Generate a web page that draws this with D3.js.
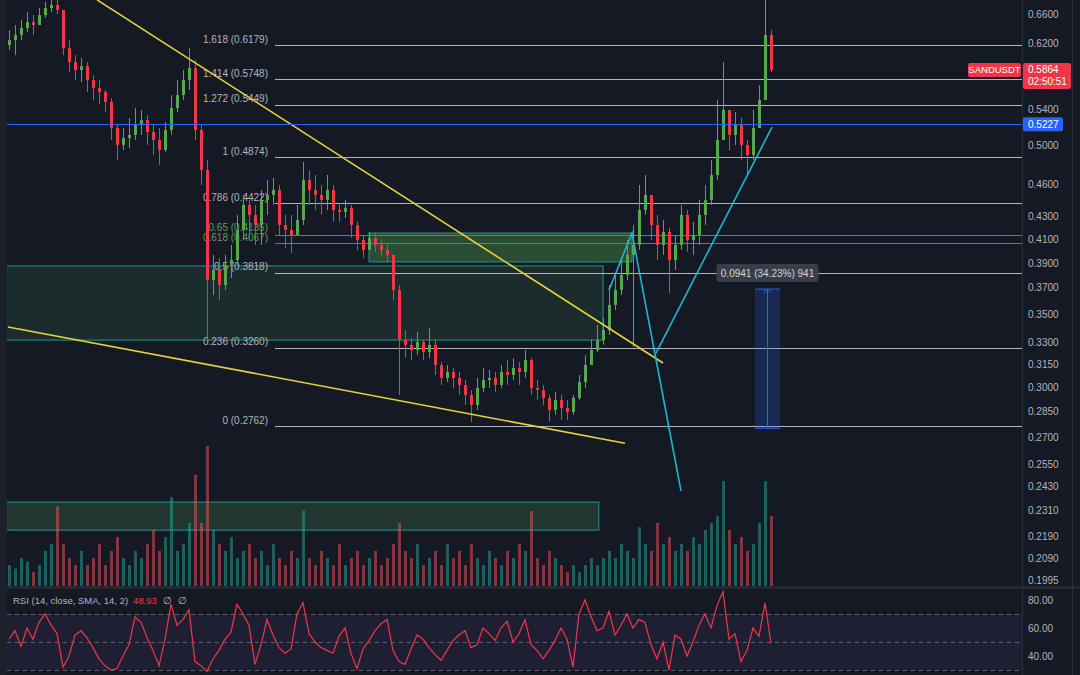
<!DOCTYPE html>
<html>
<head>
<meta charset="utf-8">
<script src="https://cdn.jsdelivr.net/npm/d3@7"></script>
<style>
html, body { margin: 0; padding: 0; background: #151924; }
svg { display: block; font-family: "Liberation Sans", Arial, sans-serif; }
</style>
</head>
<body>
<svg id="chart" width="1080" height="675"></svg>
<script>
// SANDUSDT candles, one row per bar: [open, high, low, close]
var candles = [
    [0.6180, 0.6380, 0.6115, 0.6246], [0.6246, 0.6448, 0.6050, 0.6313], [0.6313, 0.6517, 0.6246, 0.6407], [0.6407, 0.6628, 0.6353, 0.6489],
    [0.6489, 0.6586, 0.6313, 0.6448], [0.6448, 0.6684, 0.6448, 0.6586], [0.6586, 0.6770, 0.6545, 0.6684], [0.6684, 0.6800, 0.6628, 0.6727],
    [0.6727, 0.6800, 0.6600, 0.6656], [0.6656, 0.6656, 0.6050, 0.6141], [0.6141, 0.6246, 0.5837, 0.5962], [0.5962, 0.6050, 0.5739, 0.5862],
    [0.5862, 0.6012, 0.5715, 0.5912], [0.5912, 0.5962, 0.5596, 0.5739], [0.5739, 0.5800, 0.5503, 0.5643], [0.5643, 0.5739, 0.5457, 0.5596],
    [0.5596, 0.5620, 0.5365, 0.5480], [0.5480, 0.5526, 0.5057, 0.5187], [0.5187, 0.5220, 0.4848, 0.5004], [0.5004, 0.5187, 0.4951, 0.5078],
    [0.5078, 0.5297, 0.4972, 0.5111], [0.5111, 0.5411, 0.5057, 0.5220], [0.5220, 0.5388, 0.5111, 0.5275], [0.5275, 0.5331, 0.5004, 0.5143],
    [0.5143, 0.5220, 0.4899, 0.5057], [0.5057, 0.5187, 0.4797, 0.4951], [0.4951, 0.5253, 0.4930, 0.5165], [0.5165, 0.5560, 0.5111, 0.5411],
    [0.5411, 0.5739, 0.5365, 0.5560], [0.5560, 0.5862, 0.5503, 0.5739], [0.5739, 0.6141, 0.5620, 0.5887], [0.5887, 0.5987, 0.5057, 0.5165],
    [0.5165, 0.5220, 0.4598, 0.4746], [0.4746, 0.4848, 0.3313, 0.3761], [0.3761, 0.3966, 0.3644, 0.3842], [0.3842, 0.3941, 0.3606, 0.3722],
    [0.3722, 0.3966, 0.3683, 0.3883], [0.3883, 0.4051, 0.3777, 0.3924], [0.3924, 0.4316, 0.3883, 0.4181], [0.4181, 0.4502, 0.4093, 0.4408],
    [0.4408, 0.4455, 0.4093, 0.4316], [0.4316, 0.4408, 0.4051, 0.4225], [0.4225, 0.4550, 0.4051, 0.4455], [0.4455, 0.4647, 0.4316, 0.4502],
    [0.4502, 0.4667, 0.4408, 0.4550], [0.4550, 0.4598, 0.4137, 0.4225], [0.4225, 0.4316, 0.4025, 0.4181], [0.4181, 0.4316, 0.3983, 0.4137],
    [0.4137, 0.4408, 0.4137, 0.4270], [0.4270, 0.4828, 0.4225, 0.4647], [0.4647, 0.4746, 0.4408, 0.4550], [0.4550, 0.4696, 0.4361, 0.4502],
    [0.4502, 0.4598, 0.4316, 0.4455], [0.4455, 0.4696, 0.4361, 0.4550], [0.4550, 0.4598, 0.4252, 0.4361], [0.4361, 0.4427, 0.4252, 0.4343],
    [0.4343, 0.4455, 0.4288, 0.4380], [0.4380, 0.4408, 0.4111, 0.4225], [0.4225, 0.4252, 0.4008, 0.4093], [0.4093, 0.4137, 0.3941, 0.4008],
    [0.4008, 0.4163, 0.4008, 0.4111], [0.4111, 0.4154, 0.3991, 0.4051], [0.4051, 0.4093, 0.3958, 0.4008], [0.4008, 0.4051, 0.3908, 0.3966],
    [0.3966, 0.3966, 0.3606, 0.3683], [0.3683, 0.3722, 0.2950, 0.3313], [0.3313, 0.3384, 0.3189, 0.3279], [0.3279, 0.3327, 0.3176, 0.3244],
    [0.3244, 0.3370, 0.3210, 0.3299], [0.3299, 0.3313, 0.3176, 0.3230], [0.3230, 0.3398, 0.3189, 0.3279], [0.3279, 0.3313, 0.3077, 0.3143],
    [0.3143, 0.3163, 0.3013, 0.3058], [0.3058, 0.3143, 0.3032, 0.3097], [0.3097, 0.3123, 0.2994, 0.3058], [0.3058, 0.3097, 0.2950, 0.3013],
    [0.3013, 0.3045, 0.2888, 0.2950], [0.2950, 0.2981, 0.2786, 0.2888], [0.2888, 0.3058, 0.2858, 0.2994], [0.2994, 0.3123, 0.2969, 0.3045],
    [0.3045, 0.3110, 0.2994, 0.3058], [0.3058, 0.3097, 0.2969, 0.3013], [0.3013, 0.3143, 0.2994, 0.3097], [0.3097, 0.3176, 0.3013, 0.3077],
    [0.3077, 0.3189, 0.3045, 0.3123], [0.3123, 0.3163, 0.3013, 0.3097], [0.3097, 0.3244, 0.3058, 0.3176], [0.3176, 0.3189, 0.2950, 0.2994],
    [0.2994, 0.3045, 0.2919, 0.2981], [0.2981, 0.3013, 0.2888, 0.2931], [0.2931, 0.2950, 0.2786, 0.2858], [0.2858, 0.2969, 0.2828, 0.2919],
    [0.2919, 0.2950, 0.2798, 0.2870], [0.2870, 0.2919, 0.2798, 0.2846], [0.2846, 0.2950, 0.2828, 0.2931], [0.2931, 0.3077, 0.2919, 0.3032],
    [0.3032, 0.3210, 0.2994, 0.3143], [0.3143, 0.3313, 0.3143, 0.3244], [0.3244, 0.3420, 0.3230, 0.3313], [0.3313, 0.3471, 0.3279, 0.3384],
    [0.3384, 0.3722, 0.3349, 0.3568], [0.3568, 0.3802, 0.3530, 0.3683], [0.3683, 0.3941, 0.3644, 0.3802], [0.3802, 0.4093, 0.3761, 0.3966],
    [0.3966, 0.4225, 0.3265, 0.4051], [0.4051, 0.4598, 0.4008, 0.4361], [0.4361, 0.4696, 0.4316, 0.4502], [0.4502, 0.4502, 0.4093, 0.4225],
    [0.4225, 0.4316, 0.3924, 0.4051], [0.4051, 0.4270, 0.3966, 0.4163], [0.4163, 0.4199, 0.3660, 0.3924], [0.3924, 0.4137, 0.3842, 0.4051],
    [0.4051, 0.4408, 0.4008, 0.4316], [0.4316, 0.4361, 0.3991, 0.4093], [0.4093, 0.4252, 0.3966, 0.4137], [0.4137, 0.4455, 0.4051, 0.4316],
    [0.4316, 0.4598, 0.4225, 0.4455], [0.4455, 0.4848, 0.4408, 0.4696], [0.4696, 0.5503, 0.4647, 0.5057], [0.5057, 0.5962, 0.5057, 0.5388],
    [0.5388, 0.5388, 0.4951, 0.5111], [0.5111, 0.5365, 0.5004, 0.5220], [0.5220, 0.5297, 0.4848, 0.5004], [0.5004, 0.5057, 0.4696, 0.4899],
    [0.4899, 0.5388, 0.4848, 0.5187], [0.5187, 0.5679, 0.5187, 0.5503], [0.5503, 0.6800, 0.5503, 0.6313], [0.6313, 0.6380, 0.5837, 0.5864]
];

// volume per bar (millions)
var volumes = [
    3, 2.5, 4, 3.5, 2, 3, 5, 6, 11.4, 6,
    4, 3, 5, 3, 4, 6, 3, 5, 7, 4,
    3, 5, 4, 6, 8, 5, 7, 12.7, 5, 6,
    9, 15.9, 9, 20, 8, 6, 5, 7, 4, 5,
    6, 4, 5, 3, 6, 4, 3, 5, 4, 10.8,
    4, 3, 5, 4, 3, 6, 3, 4, 5, 3,
    4, 5, 3, 4, 6, 9, 5, 4, 6, 3,
    4, 5, 3, 6, 4, 5, 3, 6, 4, 3,
    5, 4, 3, 5, 4, 6, 5, 10.7, 4, 3,
    5, 4, 3, 2, 3, 2, 3, 4, 3, 4,
    5, 4, 6, 5, 4, 8.4, 6, 5, 9, 6,
    7, 5, 6, 5, 7, 6, 8, 9, 10, 15,
    8, 6, 7, 5, 6, 9, 15, 10
];

// RSI(14) per bar
var rsiValues = [
    52, 58, 47, 60, 52, 64, 70, 62, 56, 32,
    40, 55, 58, 53, 46, 38, 33, 30, 31, 40,
    48, 68, 64, 53, 44, 33, 52, 77, 62, 66,
    73, 36, 33, 29, 38, 44, 52, 57, 77, 70,
    62, 34, 48, 66, 55, 46, 42, 45, 70, 78,
    56, 50, 46, 44, 42, 54, 60, 42, 31, 45,
    51, 58, 63, 66, 44, 36, 34, 45, 55, 52,
    46, 41, 37, 44, 51, 55, 58, 46, 48, 60,
    56, 51, 60, 65, 50, 56, 66, 48, 44, 38,
    44, 51, 60, 52, 32, 70, 80, 68, 58, 60,
    72, 55, 62, 70, 60, 66, 64, 48, 38, 50,
    30, 55, 52, 40, 50, 62, 70, 60, 76, 86,
    52, 56, 36, 44, 60, 54, 78, 48.93
];

var priceTicks = [0.6600, 0.6200, 0.5400, 0.5000, 0.4600, 0.4300, 0.4100, 0.3900, 0.3700, 0.3500,
    0.3300, 0.3150, 0.3000, 0.2850, 0.2700, 0.2550, 0.2430, 0.2310, 0.2190, 0.2090, 0.1995];
var rsiTicks = [80, 60, 40];

// fib retracement drawn from 0.2762 to 0.4874
var fibRatios = ["0", "0.236", "0.5", "0.618", "0.65", "0.786", "1", "1.272", "1.414", "1.618"];
var fibPrices = [0.2762, 0.3260, 0.3818, 0.4067, 0.4135, 0.4422, 0.4874, 0.5449, 0.5748, 0.6179];

// drawings, in [bar index, price]
var upperTrend = [[14.67, 0.6800], [109, 0.3156]];
var lowerTrend = [[-0.17, 0.3406], [102.67, 0.2664]];
var cyanZigzag = [[100, 0.3683], [103.83, 0.4154], [112, 0.2408]];
var cyanSupport = [[107.83, 0.3223], [127.17, 0.5197]];
var demandZone = [[-0.4, 0.3875], [99, 0.3313]];
var supplyZone = [[60, 0.4154], [103.83, 0.3908]];
var volumeZone = [[-0.4, 0.2352], [98.3, 0.2217]];
// price range tool: bar from, bar to, price from, price to, bars
var measureRange = [124.33, 128.5, 0.2749, 0.3690, 941];
var blueLevel = 0.5227;
var lastPrice = 0.5864;

var svg = d3.select("#chart");
var W = 1080, H = 675, plotRight = 1022, mainBottom = 587;

var x = d3.scaleLinear().domain([0, candles.length - 1]).range([9, 771]);
var y = d3.scaleLog().domain([0.1995, 0.66]).range([580, 14]);
var yVol = d3.scaleLinear().domain([0, 20]).range([586, 446]);
var yRsi = d3.scaleLinear().domain([0, 100]).range([712, 572]);

var UP = "#55a84e", DOWN = "#f23645";

svg.append("rect").attr("width", W).attr("height", H).attr("fill", "#151924");
svg.append("rect").attr("width", 7).attr("height", H).attr("fill", "#1c202b");

var defs = svg.append("defs");
defs.append("clipPath").attr("id", "clipMain").append("rect")
    .attr("x", 7).attr("y", 0).attr("width", plotRight - 7).attr("height", mainBottom);
defs.append("clipPath").attr("id", "clipRsi").append("rect")
    .attr("x", 7).attr("y", mainBottom + 2).attr("width", plotRight - 7).attr("height", H - mainBottom - 2);

var main = svg.append("g").attr("clip-path", "url(#clipMain)");

// zones
function drawZone(zone, fill, stroke) {
    main.append("rect")
        .attr("x", x(zone[0][0])).attr("y", y(zone[0][1]))
        .attr("width", x(zone[1][0]) - x(zone[0][0]))
        .attr("height", y(zone[1][1]) - y(zone[0][1]))
        .attr("fill", fill).attr("stroke", stroke).attr("stroke-width", 1);
}
drawZone(demandZone, "rgba(56,110,70,0.22)", "#1f9c86");
drawZone(volumeZone, "rgba(56,110,70,0.35)", "#1f9c86");

// fib levels
var fibStart = 275;
var fib = main.append("g").attr("class", "fib");
fib.selectAll("line").data(fibPrices).enter().append("line")
    .attr("x1", fibStart).attr("x2", plotRight)
    .attr("y1", function (d) { return Math.round(y(d)) + 0.5; })
    .attr("y2", function (d) { return Math.round(y(d)) + 0.5; })
    .attr("stroke", function (d, i) { return (fibRatios[i] === "0.618" || fibRatios[i] === "0.65") ? "rgba(110,170,100,0.75)" : "rgba(205,208,215,0.85)"; })
    .attr("stroke-width", 1);
fib.selectAll("text").data(fibPrices).enter().append("text")
    .attr("x", 268)
    .attr("y", function (d, i) { return y(d) - (fibRatios[i] === "0.65" ? 4 : 2.5); })
    .attr("text-anchor", "end")
    .attr("font-size", 10)
    .attr("fill", function (d, i) { return (fibRatios[i] === "0.618" || fibRatios[i] === "0.65") ? "#5f9e58" : "#b2b5be"; })
    .text(function (d, i) { return fibRatios[i] + " (" + d.toFixed(4) + ")"; });

drawZone(supplyZone, "rgba(76,160,80,0.38)", "#1f9c86");

// volume
main.append("g").selectAll("rect").data(volumes).enter().append("rect")
    .attr("x", function (d, i) { return Math.round(x(i)) - 1; })
    .attr("width", 3)
    .attr("y", function (d) { return yVol(d); })
    .attr("height", function (d) { return yVol(0) - yVol(d); })
    .attr("fill", function (d, i) { return candles[i][3] >= candles[i][0] ? "rgba(38,166,154,0.5)" : "rgba(239,83,80,0.5)"; });

// candles
var bars = main.append("g").selectAll("g").data(candles).enter().append("g");
bars.append("line")
    .attr("x1", function (d, i) { return Math.round(x(i)) + 0.5; })
    .attr("x2", function (d, i) { return Math.round(x(i)) + 0.5; })
    .attr("y1", function (d) { return y(d[1]); })
    .attr("y2", function (d) { return y(d[2]); })
    .attr("stroke", function (d) { return d[3] >= d[0] ? UP : DOWN; })
    .attr("stroke-width", 1);
bars.append("rect")
    .attr("x", function (d, i) { return Math.round(x(i)) - 1; })
    .attr("width", 3)
    .attr("y", function (d) { return y(Math.max(d[0], d[3])); })
    .attr("height", function (d) { return Math.max(1, Math.abs(y(d[0]) - y(d[3]))); })
    .attr("fill", function (d) { return d[3] >= d[0] ? UP : DOWN; });

// trend lines
var line = d3.line().x(function (d) { return x(d[0]); }).y(function (d) { return y(d[1]); });
main.append("path").attr("d", line(upperTrend)).attr("fill", "none").attr("stroke", "#e6d43a").attr("stroke-width", 1.6);
main.append("path").attr("d", line(lowerTrend)).attr("fill", "none").attr("stroke", "#e6d43a").attr("stroke-width", 1.6);
main.append("path").attr("d", line(cyanZigzag)).attr("fill", "none").attr("stroke", "#22b4cc").attr("stroke-width", 1.6);
main.append("path").attr("d", line(cyanSupport)).attr("fill", "none").attr("stroke", "#22b4cc").attr("stroke-width", 1.6);

// blue horizontal level
main.append("line")
    .attr("x1", 7).attr("x2", plotRight)
    .attr("y1", Math.round(y(blueLevel)) + 0.5).attr("y2", Math.round(y(blueLevel)) + 0.5)
    .attr("stroke", "#2962ff").attr("stroke-width", 1);

// price range measure
var mx0 = x(measureRange[0]), mx1 = x(measureRange[1]);
var myTop = y(measureRange[3]), myBot = y(measureRange[2]);
var mxc = Math.round((mx0 + mx1) / 2) + 0.5;
var measure = main.append("g");
measure.append("rect").attr("x", mx0).attr("y", myTop).attr("width", mx1 - mx0).attr("height", myBot - myTop)
    .attr("fill", "rgba(41,98,255,0.2)");
measure.append("line").attr("x1", mx0).attr("x2", mx1).attr("y1", myTop).attr("y2", myTop).attr("stroke", "#2962ff");
measure.append("line").attr("x1", mx0).attr("x2", mx1).attr("y1", myBot).attr("y2", myBot).attr("stroke", "#2962ff");
measure.append("line").attr("x1", mxc).attr("x2", mxc).attr("y1", myTop).attr("y2", myBot).attr("stroke", "#2962ff");
measure.append("path").attr("d", "M" + (mxc - 4) + "," + (myTop + 4) + "L" + mxc + "," + myTop + "L" + (mxc + 4) + "," + (myTop + 4))
    .attr("fill", "none").attr("stroke", "#2962ff");
var mLabel = (measureRange[3] - measureRange[2]).toFixed(4) + " (" +
    ((measureRange[3] / measureRange[2] - 1) * 100).toFixed(2) + "%) " + measureRange[4];
measure.append("rect").attr("x", mxc - 51).attr("y", myTop - 25).attr("width", 102).attr("height", 18).attr("rx", 3)
    .attr("fill", "rgba(60,64,76,0.92)");
measure.append("text").attr("x", mxc).attr("y", myTop - 12.5).attr("text-anchor", "middle")
    .attr("font-size", 10).attr("fill", "#d1d4dc").text(mLabel);

// pane borders
svg.append("line").attr("x1", 7).attr("x2", W).attr("y1", mainBottom + 0.5).attr("y2", mainBottom + 0.5)
    .attr("stroke", "#2a2e39").attr("stroke-width", 2);
svg.append("line").attr("x1", plotRight + 0.5).attr("x2", plotRight + 0.5).attr("y1", 0).attr("y2", H).attr("stroke", "#2a2e39");
svg.append("line").attr("x1", 1072.5).attr("x2", 1072.5).attr("y1", 0).attr("y2", H).attr("stroke", "#2a2e39");

// price axis
var yAxis = d3.axisRight(y).tickValues(priceTicks).tickFormat(d3.format(".4f")).tickSize(0).tickPadding(6);
var ya = svg.append("g").attr("transform", "translate(" + plotRight + ",0)").call(yAxis);
ya.select(".domain").remove();
ya.selectAll("text").attr("fill", "#b2b5be").attr("font-size", 10).attr("font-family", "Liberation Sans, Arial, sans-serif");

// RSI pane
var rsiG = svg.append("g").attr("clip-path", "url(#clipRsi)");
rsiG.append("rect").attr("x", 7).attr("width", plotRight - 7)
    .attr("y", yRsi(70)).attr("height", yRsi(30) - yRsi(70))
    .attr("fill", "rgba(126,87,194,0.1)");
rsiG.selectAll("line.band").data([70, 50, 30]).enter().append("line")
    .attr("class", "band")
    .attr("x1", 7).attr("x2", plotRight)
    .attr("y1", function (d) { return Math.round(yRsi(d)) + 0.5; })
    .attr("y2", function (d) { return Math.round(yRsi(d)) + 0.5; })
    .attr("stroke", "rgba(120,123,134,0.7)").attr("stroke-dasharray", "4,4");
var rsiLine = d3.line().x(function (d, i) { return x(i); }).y(function (d) { return yRsi(d); });
rsiG.append("path").datum(rsiValues).attr("d", rsiLine)
    .attr("fill", "none").attr("stroke", "#f23645").attr("stroke-width", 1.2);

var rsiAxis = d3.axisRight(yRsi).tickValues(rsiTicks).tickFormat(d3.format(".2f")).tickSize(0).tickPadding(6);
var ra = svg.append("g").attr("transform", "translate(" + plotRight + ",0)").call(rsiAxis);
ra.select(".domain").remove();
ra.selectAll("text").attr("fill", "#b2b5be").attr("font-size", 10).attr("font-family", "Liberation Sans, Arial, sans-serif");

var rsiTitle = svg.append("text").attr("x", 13).attr("y", 603.5).attr("font-size", 9.5).attr("fill", "#b2b5be");
rsiTitle.append("tspan").text("RSI (14, close, SMA, 14, 2)");
rsiTitle.append("tspan").attr("dx", 5).attr("fill", "#f23645").text(rsiValues[rsiValues.length - 1].toFixed(2));
rsiTitle.append("tspan").attr("dx", 6).text("\u2205");
rsiTitle.append("tspan").attr("dx", 6).text("\u2205");

// price tags
var yLast = y(lastPrice);
svg.append("rect").attr("x", 968).attr("y", yLast - 7).attr("width", 53).attr("height", 14).attr("rx", 2).attr("fill", "#f23645");
svg.append("text").attr("x", 994.5).attr("y", yLast + 3.5).attr("text-anchor", "middle").attr("font-size", 9.5).attr("fill", "#fff").text("SANDUSDT");
svg.append("rect").attr("x", plotRight + 1).attr("y", yLast - 7).attr("width", 48).attr("height", 26).attr("rx", 2).attr("fill", "#f23645");
svg.append("text").attr("x", 1028).attr("y", yLast + 3.5).attr("font-size", 10).attr("fill", "#fff").text(lastPrice.toFixed(4));
svg.append("text").attr("x", 1028).attr("y", yLast + 15.5).attr("font-size", 10).attr("fill", "#fff").text("02:50:51");

var yBlue = y(blueLevel);
svg.append("rect").attr("x", plotRight + 1).attr("y", yBlue - 7).attr("width", 40).attr("height", 14).attr("rx", 2).attr("fill", "#2962ff");
svg.append("text").attr("x", 1028).attr("y", yBlue + 3.5).attr("font-size", 10).attr("fill", "#fff").text(blueLevel.toFixed(4));
</script>
</body>
</html>
